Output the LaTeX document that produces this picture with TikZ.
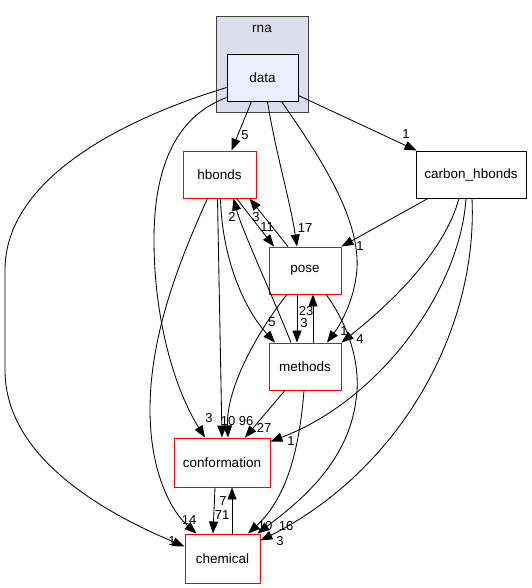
\documentclass[tikz,border=0pt]{standalone}
\usepackage{fontspec}
\setmainfont{Liberation Sans}
\usetikzlibrary{arrows.meta,calc}
\begin{document}
\begin{tikzpicture}[x=1pt,y=-1pt,
  every node/.style={font=\fontsize{13.5}{15}\selectfont},
  dirbox/.style={draw=red, fill=white, line width=0.9pt, minimum width=#1, minimum height=47pt, inner sep=0pt},
  plainbox/.style={draw=black, fill=white, line width=0.9pt, minimum width=#1, minimum height=47pt, inner sep=0pt},
  depedge/.style={draw=black, line width=0.85pt, -{Triangle[length=12pt,width=9pt]}},
  lbl/.style={inner sep=0pt, font=\fontsize{13}{15}\selectfont}]
\useasboundingbox (0,0) rectangle (531,588);
% cluster
\node[draw=black!75, fill={rgb,255:red,221;green,221;blue,238}, line width=0.9pt,
      minimum width=92pt, minimum height=96pt, inner sep=0pt] (rna) at (262,64) {};
\node[inner sep=0pt] (rnalabel) at (262,29) {rna};
% nodes
\node[plainbox=71pt, fill={rgb,255:red,238;green,238;blue,255}] (data) at (262.5,77.5) {data};
\node[dirbox=73pt] (hbonds) at (219.5,174.5) {hbonds};
\node[plainbox=110pt] (carbon) at (471,174.5) {carbon\_hbonds};
\node[dirbox=72pt] (pose) at (305,270.5) {pose};
\node[dirbox=72pt] (methods) at (305,366.5) {methods};
\node[dirbox=96pt, minimum height=49pt] (conformation) at (222,462.5) {conformation};
\node[dirbox=75pt, minimum height=49pt] (chemical) at (222.5,558.5) {chemical};
% edges from data
\draw[depedge] ($(data.south)+(-11,0)$) -- ($(hbonds.north)+(12,0)$);
\draw[depedge] ($(data.south)+(5,0)$) .. controls (275,150) and (290,200) .. ($(pose.north)+(-8,0)$);
\draw[depedge] ($(data.south)+(19,0)$) .. controls (315,150) and (360,215) .. (357,268)
   .. controls (355,300) and (340,325) .. ($(methods.north)+(22,0)$);
\draw[depedge] ($(data.east)+(0,18)$) -- ($(carbon.north west)+(1,0)$);
\draw[depedge] ($(data.west)+(0,20)$) .. controls (180,115) and (154,160) .. (154,240)
   .. controls (154,320) and (175,390) .. ($(conformation.north)+(-17,0)$);
\draw[depedge] ($(data.west)+(0,10)$) .. controls (120,120) and (5,180) .. (5,270) -- (5,370)
   .. controls (5,460) and (110,515) .. ($(chemical.west)+(0,-12)$);
% edges from hbonds
\draw[depedge] ($(hbonds.south)+(-12,0)$) .. controls (175,270) and (150,340) .. (150,410)
   .. controls (150,470) and (170,510) .. ($(chemical.north)+(-26,0)$);
\draw[depedge] ($(hbonds.south)+(-2,0)$) -- ($(conformation.north)+(0,0)$);
\draw[depedge] ($(hbonds.south)+(1,0)$) .. controls (222,260) and (245,310) .. ($(methods.north)+(-30,0)$);
\draw[depedge] ($(hbonds.south)+(17,0)$) -- ($(pose.north)+(-31,0)$);
% edges from pose
\draw[depedge] ($(pose.north)+(-17,0)$) -- ($(hbonds.south)+(30,0)$);
\draw[depedge] ($(pose.south)+(-18,0)$) .. controls (255,335) and (226,390) .. ($(conformation.north)+(6,0)$);
\draw[depedge] ($(pose.south)+(-8,0)$) -- ($(methods.north)+(-8,0)$);
\draw[depedge] ($(pose.south)+(21,0)$) .. controls (345,320) and (362,360) .. (356,400)
   .. controls (348,465) and (295,505) .. ($(chemical.north east)+(-3,0)$);
% edges from methods
\draw[depedge] ($(methods.north)+(-14,0)$) .. controls (270,290) and (242,230) .. ($(hbonds.south)+(14,0)$);
\draw[depedge] ($(methods.north)+(8,0)$) -- ($(pose.south)+(8,0)$);
\draw[depedge] ($(methods.south)+(-20,0)$) -- ($(conformation.north)+(23,0)$);
\draw[depedge] ($(methods.south)+(-1,0)$) .. controls (300,440) and (290,495) .. ($(chemical.north)+(25.5,0)$);
% edges from carbon_hbonds
\draw[depedge] ($(carbon.south)+(-43,0)$) -- (pose.north east);
\draw[depedge] ($(carbon.south)+(-12,0)$) .. controls (445,250) and (395,300) .. (methods.north east);
\draw[depedge] ($(carbon.south)+(-5,0)$) .. controls (460,290) and (380,400) .. ($(conformation.north east)+(0,4)$);
\draw[depedge] ($(carbon.south)+(1,0)$) .. controls (478,330) and (400,470) .. ($(chemical.north east)+(0,7)$);
% conformation <-> chemical
\draw[depedge] ($(conformation.south)+(-7,0)$) -- ($(chemical.north)+(-9.5,0)$);
\draw[depedge] ($(chemical.north)+(9.5,0)$) -- ($(conformation.south)+(10,0)$);
% labels
\node[lbl] (l1) at (245,135) {5};
\node[lbl] (l2) at (305,228) {17};
\node[lbl] (l3) at (344,331) {1};
\node[lbl] (l4) at (406,134) {1};
\node[lbl] (l5) at (209,418) {3};
\node[lbl] (l6) at (172,541) {1};
\node[lbl] (l7) at (189,520) {14};
\node[lbl] (l8) at (228,421) {10};
\node[lbl] (l9) at (272,322) {5};
\node[lbl] (l10) at (267,227) {11};
\node[lbl] (l11) at (256,217) {3};
\node[lbl] (l12) at (246,421) {96};
\node[lbl] (l13) at (304,323) {3};
\node[lbl] (l14) at (286,526) {16};
\node[lbl] (l15) at (232,217) {2};
\node[lbl] (l16) at (306,311) {23};
\node[lbl] (l17) at (264,428) {27};
\node[lbl] (l18) at (265,526) {10};
\node[lbl] (l19) at (360,246) {1};
\node[lbl] (l20) at (360,339) {4};
\node[lbl] (l21) at (291,441) {1};
\node[lbl] (l22) at (280,541) {3};
\node[lbl] (l23) at (222,515) {71};
\node[lbl] (l24) at (223,501) {7};
\end{tikzpicture}
\end{document}
